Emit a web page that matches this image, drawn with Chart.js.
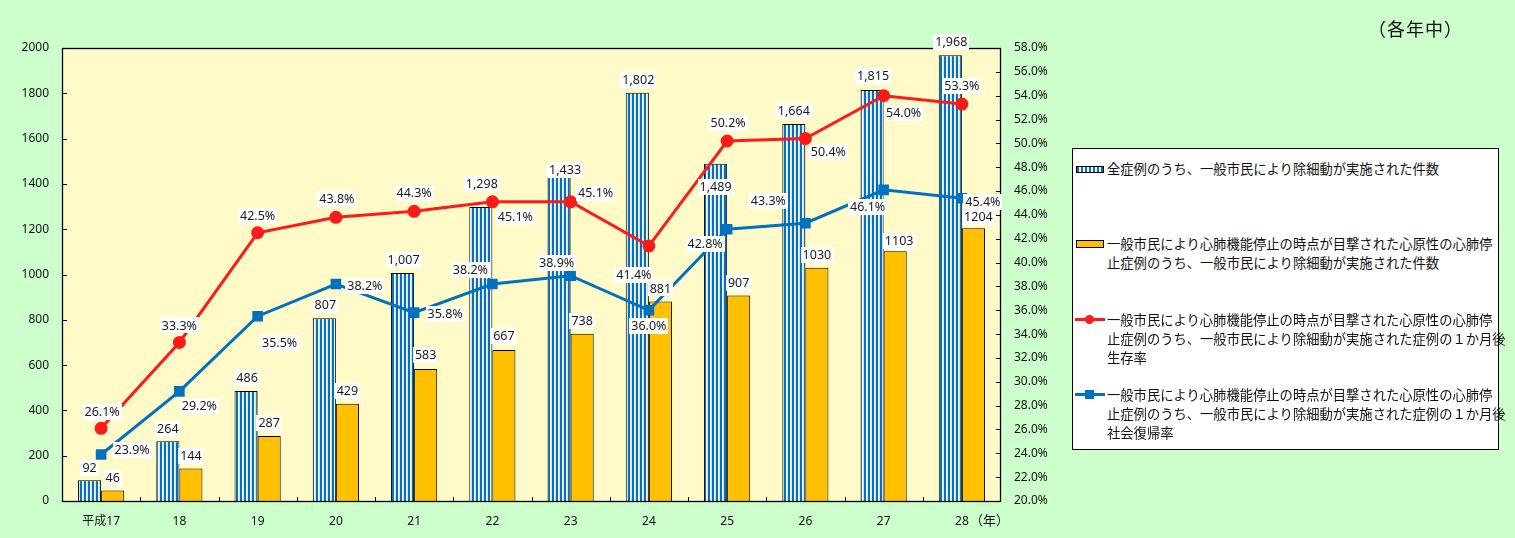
<!DOCTYPE html>
<html><head><meta charset="utf-8">
<script src="https://cdn.jsdelivr.net/npm/chart.js@4.4.1/dist/chart.umd.min.js"></script>
<style>
html,body{margin:0;padding:0;background:#CCFFCC;}
#wrap{position:relative;width:1515px;height:538px;overflow:hidden;background:#CCFFCC;}
#c{position:absolute;left:0;top:0;}
#note{position:absolute;left:1368px;top:15px;font:18px "Noto Sans CJK JP";letter-spacing:1px;color:#111;white-space:nowrap;}
#unit{position:absolute;left:970px;top:510px;font:13px "Noto Sans CJK JP";color:#111;white-space:nowrap;}
#legend{position:absolute;left:1072px;top:148px;width:425px;height:300px;background:#fff;border:1px solid #000;}
.item{position:absolute;left:34px;font:13.3px/19px "Noto Sans CJK JP";color:#111;white-space:nowrap;}
.mk{position:absolute;}
</style></head><body>
<div id="wrap">
<canvas id="c" width="1515" height="538"></canvas>
<div id="note">（各年中）</div>
<div id="unit">（年）</div>
<div id="legend"></div>
</div>
<script>
// ---- data ----
const categories = ['平成17','18','19','20','21','22','23','24','25','26','27','28'];
const allCases = [92,264,486,807,1007,1298,1433,1802,1489,1664,1815,1968];
const witnessedCases = [46,144,287,429,583,667,738,881,907,1030,1103,1204];
const survivalRate = [26.1,33.3,42.5,43.8,44.3,45.1,45.1,41.4,50.2,50.4,54.0,53.3];
const socialReturnRate = [23.9,29.2,35.5,38.2,35.8,38.2,38.9,36.0,42.8,43.3,46.1,45.4];
const seriesNames = [
  ['全症例のうち、一般市民により除細動が実施された件数'],
  ['一般市民により心肺機能停止の時点が目撃された心原性の心肺停','止症例のうち、一般市民により除細動が実施された件数'],
  ['一般市民により心肺機能停止の時点が目撃された心原性の心肺停','止症例のうち、一般市民により除細動が実施された症例の１か月後','生存率'],
  ['一般市民により心肺機能停止の時点が目撃された心原性の心肺停','止症例のうち、一般市民により除細動が実施された症例の１か月後','社会復帰率']
];
const leftTicks = {min:0, max:2000, step:200};
const rightTicks = {min:20, max:58, step:2};

// ---- label placement (pixel offsets, style only) ----
const allOff = [[0,-12],[0,-12],[1,-13],[1,-13],[1,-13],[1,-23],[6,-6],[1,-13],[0,23],[0,-13],[1,-14],[1,-13]];
const witOff = [[0,-13],[0,-12],[0,-13],[0,-13],[0,-14],[0,-14],[0,-13],[0,-13],[0,-13],[0,-13],[4,-10],[5,-11]];
const redOff = [[1,-16],[0,-17],[0,-17],[1,-18],[0,-18],[23,15],[25,-9],[-15,29],[1,-18],[23,13],[20,17],[0,-18]];
const blueOff = [[31,-5],[20,15],[22,27],[29,2],[31,1],[-22,-14],[-14,-13],[0,16],[-22,15],[-37,-22],[-16,17],[21,4]];

const BLUE = '#0070C0', RED = '#FF1A1A', YELLOW = '#FFC000';
const FONT = '"Noto Sans", "Noto Sans CJK JP", sans-serif';

const canvas = document.getElementById('c');
const mainCtx = canvas.getContext('2d');
function stripePattern(){
  const p = document.createElement('canvas'); p.width = 4; p.height = 4;
  const g = p.getContext('2d');
  g.fillStyle = '#ffffff'; g.fillRect(0,0,4,4);
  g.fillStyle = BLUE; g.fillRect(0,0,2,4);
  g.fillStyle = '#cfe3f5'; g.fillRect(3,0,1,4);
  return mainCtx.createPattern(p,'repeat');
}
const stripes = stripePattern();

function drawLabel(ctx, text, x, y){
  ctx.font = '12.5px ' + FONT;
  const w = ctx.measureText(text).width;
  ctx.fillStyle = '#ffffff';
  ctx.fillRect(Math.round(x - w/2 - 2), Math.round(y - 8), Math.round(w + 4), 16);
  ctx.fillStyle = '#1a1a1a';
  ctx.textAlign = 'center'; ctx.textBaseline = 'middle';
  ctx.fillText(text, x, y + 0.5);
}

const decor = {
  id: 'decor',
  beforeDraw(chart){
    const {ctx, chartArea:a} = chart;
    ctx.save();
    ctx.fillStyle = '#FFFAC8';
    ctx.fillRect(a.left, a.top, a.right - a.left, a.bottom - a.top);
    ctx.restore();
  },
  afterDatasetsDraw(chart){
    const {ctx, chartArea:a, scales} = chart;
    ctx.save();
    ctx.strokeStyle = '#000'; ctx.lineWidth = 1.3;
    ctx.strokeRect(a.left + 0.5, a.top + 0.5, a.right - a.left - 1, a.bottom - a.top);
    ctx.lineWidth = 1;
    ctx.beginPath();
    for (let v = leftTicks.min; v <= leftTicks.max; v += leftTicks.step){
      const y = Math.round(scales.y.getPixelForValue(v)) + 0.5;
      ctx.moveTo(a.left, y); ctx.lineTo(a.left + 5, y);
    }
    for (let v = rightTicks.min; v <= rightTicks.max + 1e-9; v += rightTicks.step){
      const y = Math.round(scales.y1.getPixelForValue(v)) + 0.5;
      ctx.moveTo(a.right - 5, y); ctx.lineTo(a.right, y);
    }
    const cw = (a.right - a.left) / categories.length;
    for (let k = 1; k < categories.length; k++){
      const x = Math.round(a.left + k * cw) + 0.5;
      ctx.moveTo(x, a.bottom); ctx.lineTo(x, a.bottom - 4);
    }
    ctx.stroke();

    // data labels
    const mAll = chart.getDatasetMeta(2), mWit = chart.getDatasetMeta(3);
    const mRed = chart.getDatasetMeta(0), mBlue = chart.getDatasetMeta(1);
    allCases.forEach((v,i)=>{ const e = mAll.data[i]; drawLabel(ctx, v.toLocaleString('en-US'), e.x + allOff[i][0], e.y + allOff[i][1]); });
    witnessedCases.forEach((v,i)=>{ const e = mWit.data[i]; drawLabel(ctx, String(v), e.x + witOff[i][0], e.y + witOff[i][1]); });
    survivalRate.forEach((v,i)=>{ const e = mRed.data[i]; drawLabel(ctx, v.toFixed(1) + '%', e.x + redOff[i][0], e.y + redOff[i][1]); });
    socialReturnRate.forEach((v,i)=>{ const e = mBlue.data[i]; drawLabel(ctx, v.toFixed(1) + '%', e.x + blueOff[i][0], e.y + blueOff[i][1]); });
    ctx.restore();
  }
};

const tickFont = {family: FONT, size: 12};
new Chart(canvas, {
  type: 'bar',
  data: {
    labels: categories,
    datasets: [
      {type:'line', label: seriesNames[2].join(''), data: survivalRate, yAxisID:'y1', order:0,
       borderColor: RED, backgroundColor: RED, borderWidth: 3, tension: 0,
       pointStyle:'circle', pointRadius: 5, pointBackgroundColor: RED, pointBorderColor: RED},
      {type:'line', label: seriesNames[3].join(''), data: socialReturnRate, yAxisID:'y1', order:0,
       borderColor: BLUE, backgroundColor: BLUE, borderWidth: 3, tension: 0,
       pointStyle:'rect', pointRadius: 7.5, pointBackgroundColor: BLUE, pointBorderColor: BLUE, pointBorderWidth: 0},
      {label: seriesNames[0].join(''), data: allCases, yAxisID:'y', order:1,
       backgroundColor: stripes, borderColor:'#000', borderWidth:1,
       categoryPercentage: 0.59, barPercentage: 1},
      {label: seriesNames[1].join(''), data: witnessedCases, yAxisID:'y', order:1,
       backgroundColor: YELLOW, borderColor:'#000', borderWidth:1,
       categoryPercentage: 0.59, barPercentage: 1}
    ]
  },
  options: {
    responsive:false, animation:false,
    layout:{padding:{top:48, right:454, left:0, bottom:0}},
    plugins:{legend:{display:false}, tooltip:{enabled:false}},
    scales:{
      x:{grid:{display:false, drawTicks:false}, border:{display:false},
         ticks:{font:tickFont, color:'#111', padding:13, maxRotation:0, autoSkip:false},
         afterFit(s){ s.height = 37; }},
      y:{position:'left', min:leftTicks.min, max:leftTicks.max,
         grid:{display:false, drawTicks:false}, border:{display:false},
         ticks:{stepSize:leftTicks.step, font:tickFont, color:'#111', padding:13,
                callback:(v)=>String(v)},
         afterFit(s){ s.width = 62; }},
      y1:{position:'right', min:rightTicks.min, max:rightTicks.max,
         grid:{display:false, drawTicks:false}, border:{display:false},
         ticks:{stepSize:rightTicks.step, font:tickFont, color:'#111', padding:13,
                callback:(v)=>Number(v).toFixed(1) + '%'},
         afterFit(s){ s.width = 60; }}
    }
  },
  plugins:[decor]
});

// ---- HTML legend ----
const legend = document.getElementById('legend');
const entryTops = [10, 85, 161, 236]; // first-line top inside box
const markers = [
  '<div class="mk" style="left:3px;top:17px;width:26px;height:5px;border:1px solid #000;background:repeating-linear-gradient(90deg,'+BLUE+' 0 2px,#fff 2px 4px)"></div>',
  '<div class="mk" style="left:3px;top:16px;width:26px;height:6px;border:1px solid #000;background:'+YELLOW+'"></div>',
  '<div class="mk" style="left:2px;top:18px;width:30px;height:3px;background:'+RED+'"></div><div class="mk" style="left:12px;top:15px;width:9px;height:9px;border-radius:50%;background:'+RED+'"></div>',
  '<div class="mk" style="left:2px;top:18px;width:30px;height:3px;background:'+BLUE+'"></div><div class="mk" style="left:12px;top:15px;width:9px;height:9px;background:'+BLUE+'"></div>'
];
seriesNames.forEach((lines, i)=>{
  const wrap = document.createElement('div');
  wrap.style.cssText = 'position:absolute;left:0;top:' + (entryTops[i] - 10) + 'px;width:420px;height:70px;';
  wrap.innerHTML = markers[i] + '<div class="item" style="top:10px">' + lines.join('<br>') + '</div>';
  legend.appendChild(wrap);
});
</script>
</body></html>
